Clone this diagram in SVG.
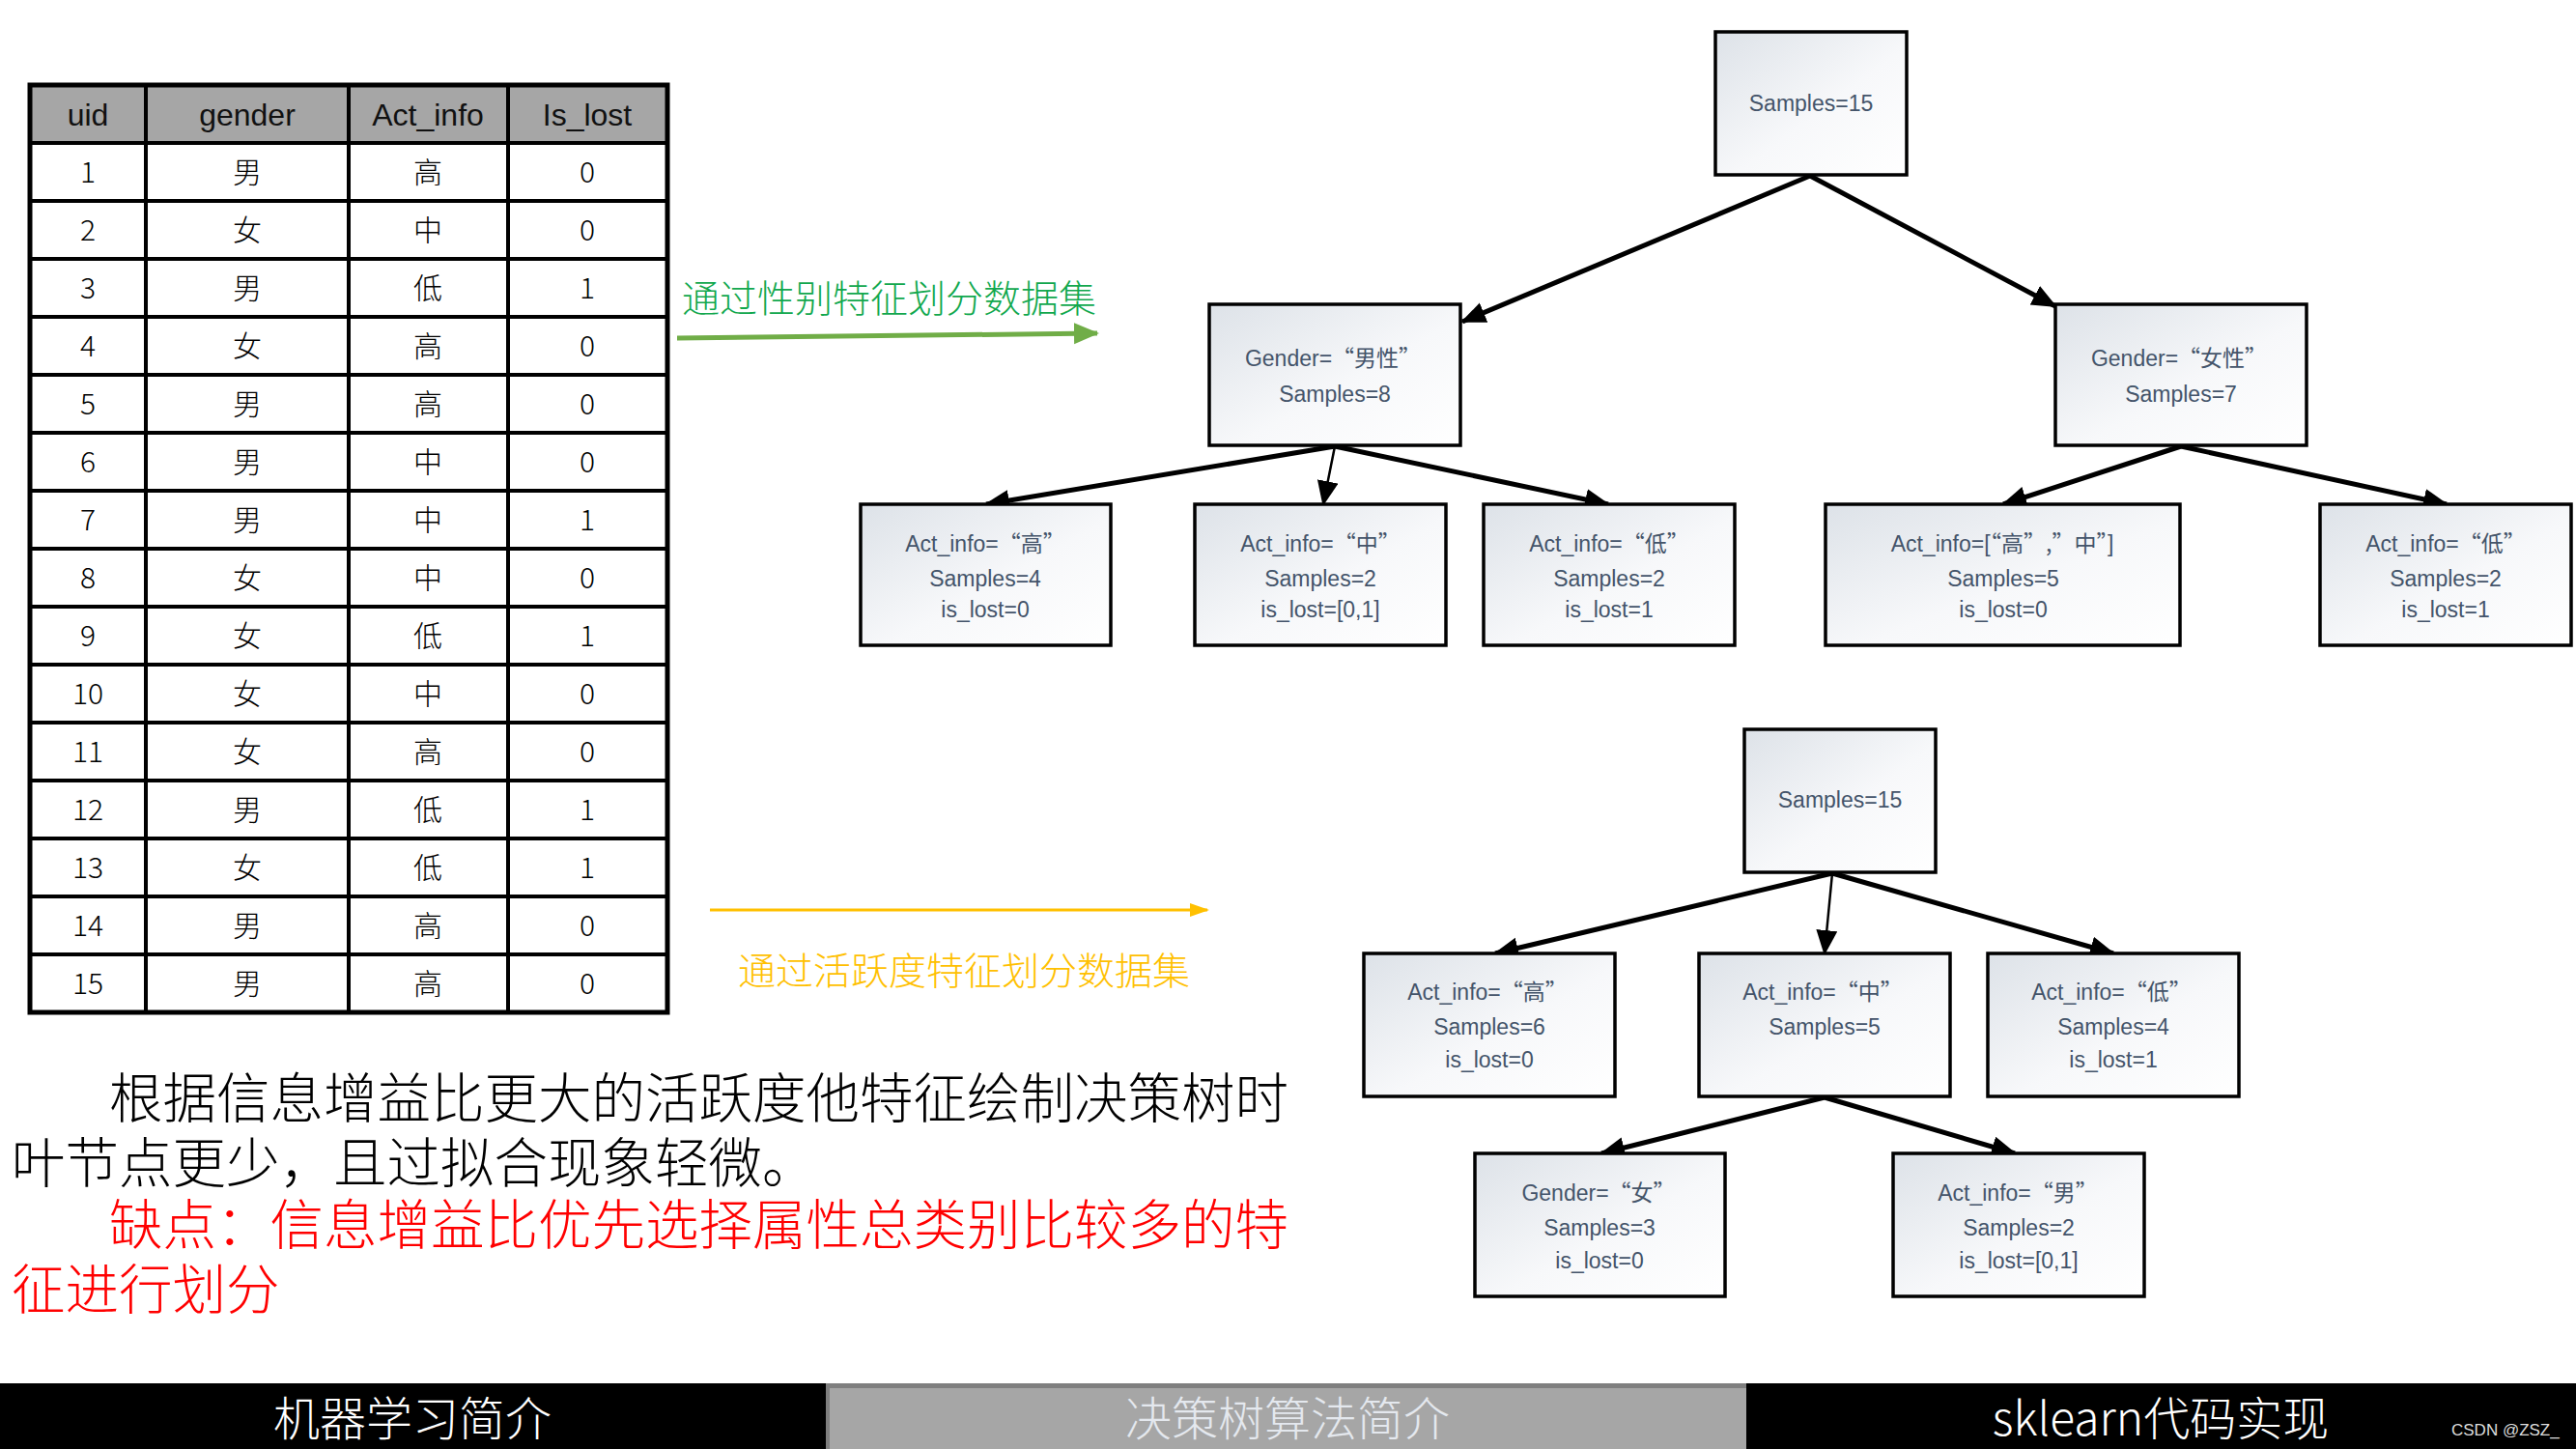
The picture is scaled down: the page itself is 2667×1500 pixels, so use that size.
<svg xmlns="http://www.w3.org/2000/svg" width="2667" height="1500" viewBox="0 0 2667 1500">
<style>
.tb{fill:none;stroke:#000;stroke-width:5}
.tl{stroke:#000;stroke-width:4}
.th{font-family:"Liberation Sans","Noto Sans CJK SC",sans-serif;font-size:32px;fill:#111;text-anchor:middle}
.td{font-family:"Noto Sans CJK SC","Liberation Sans",sans-serif;font-size:30px;font-weight:300;fill:#000;text-anchor:middle}
.node{fill:url(#ng);stroke:#000;stroke-width:3.5}
.nt{font-family:"Liberation Sans","Noto Sans CJK SC",sans-serif;font-size:23px;fill:#44546a;text-anchor:middle}
.cjk{font-family:"Noto Sans CJK SC",sans-serif}
.ar{stroke:#000;stroke-width:5;fill:none;marker-end:url(#ah)}
.arT{stroke:#000;stroke-width:2.5;fill:none;marker-end:url(#ah)}
.para{font-family:"Noto Sans CJK SC",sans-serif;font-size:55.5px;font-weight:300}
.bar{font-family:"Noto Sans CJK SC","Liberation Sans",sans-serif;font-size:48px;font-weight:300;text-anchor:middle}
</style>
<defs>
<linearGradient id="ng" x1="0" y1="0" x2="1" y2="1">
<stop offset="0" stop-color="#dde2e8"/>
<stop offset="0.55" stop-color="#f7f8fa"/>
<stop offset="1" stop-color="#ffffff"/>
</linearGradient>
<marker id="ah" markerUnits="userSpaceOnUse" markerWidth="28" markerHeight="24" refX="24" refY="11" orient="auto">
<path d="M0,0 L26,11 L0,22 z" fill="#000"/>
</marker>
<marker id="ahG" markerUnits="userSpaceOnUse" markerWidth="28" markerHeight="24" refX="24" refY="11" orient="auto">
<path d="M0,0 L26,11 L0,22 z" fill="#70ad47"/>
</marker>
<marker id="ahO" markerUnits="userSpaceOnUse" markerWidth="22" markerHeight="18" refX="18" refY="7" orient="auto">
<path d="M0,0 L20,7 L0,14 z" fill="#ffc000"/>
</marker>
</defs>
<rect width="2667" height="1500" fill="#fff"/>

<g id="table">
<rect x="31" y="88" width="660" height="60" fill="#a6a6a6"/>
<rect class="tb" x="31" y="88" width="660" height="960"/>
<line class="tl" x1="151" y1="88" x2="151" y2="1048"/>
<line class="tl" x1="361" y1="88" x2="361" y2="1048"/>
<line class="tl" x1="526" y1="88" x2="526" y2="1048"/>
<g class="tl">
<line x1="31" y1="148" x2="691" y2="148"/><line x1="31" y1="208" x2="691" y2="208"/>
<line x1="31" y1="268" x2="691" y2="268"/><line x1="31" y1="328" x2="691" y2="328"/>
<line x1="31" y1="388" x2="691" y2="388"/><line x1="31" y1="448" x2="691" y2="448"/>
<line x1="31" y1="508" x2="691" y2="508"/><line x1="31" y1="568" x2="691" y2="568"/>
<line x1="31" y1="628" x2="691" y2="628"/><line x1="31" y1="688" x2="691" y2="688"/>
<line x1="31" y1="748" x2="691" y2="748"/><line x1="31" y1="808" x2="691" y2="808"/>
<line x1="31" y1="868" x2="691" y2="868"/><line x1="31" y1="928" x2="691" y2="928"/>
<line x1="31" y1="988" x2="691" y2="988"/>
</g>
<text class="th" x="91" y="130">uid</text>
<text class="th" x="256" y="130">gender</text>
<text class="th" x="443" y="130">Act_info</text>
<text class="th" x="608" y="130">Is_lost</text>
<g class="td">
<text x="91" y="189">1</text><text x="256" y="189">男</text><text x="443" y="189">高</text><text x="608" y="189">0</text>
<text x="91" y="249">2</text><text x="256" y="249">女</text><text x="443" y="249">中</text><text x="608" y="249">0</text>
<text x="91" y="309">3</text><text x="256" y="309">男</text><text x="443" y="309">低</text><text x="608" y="309">1</text>
<text x="91" y="369">4</text><text x="256" y="369">女</text><text x="443" y="369">高</text><text x="608" y="369">0</text>
<text x="91" y="429">5</text><text x="256" y="429">男</text><text x="443" y="429">高</text><text x="608" y="429">0</text>
<text x="91" y="489">6</text><text x="256" y="489">男</text><text x="443" y="489">中</text><text x="608" y="489">0</text>
<text x="91" y="549">7</text><text x="256" y="549">男</text><text x="443" y="549">中</text><text x="608" y="549">1</text>
<text x="91" y="609">8</text><text x="256" y="609">女</text><text x="443" y="609">中</text><text x="608" y="609">0</text>
<text x="91" y="669">9</text><text x="256" y="669">女</text><text x="443" y="669">低</text><text x="608" y="669">1</text>
<text x="91" y="729">10</text><text x="256" y="729">女</text><text x="443" y="729">中</text><text x="608" y="729">0</text>
<text x="91" y="789">11</text><text x="256" y="789">女</text><text x="443" y="789">高</text><text x="608" y="789">0</text>
<text x="91" y="849">12</text><text x="256" y="849">男</text><text x="443" y="849">低</text><text x="608" y="849">1</text>
<text x="91" y="909">13</text><text x="256" y="909">女</text><text x="443" y="909">低</text><text x="608" y="909">1</text>
<text x="91" y="969">14</text><text x="256" y="969">男</text><text x="443" y="969">高</text><text x="608" y="969">0</text>
<text x="91" y="1029">15</text><text x="256" y="1029">男</text><text x="443" y="1029">高</text><text x="608" y="1029">0</text>
</g>
</g>

<g id="label-gender">
<text x="706" y="323" font-family="Noto Sans CJK SC, sans-serif" font-size="39" font-weight="300" fill="#11a84e">通过性别特征划分数据集</text>
</g>
<g id="label-act">
<text x="764" y="1019" font-family="Noto Sans CJK SC, sans-serif" font-size="39" font-weight="300" fill="#ffc000">通过活跃度特征划分数据集</text>
</g>

<g id="connectors">
<line x1="701" y1="350" x2="1136" y2="345" stroke="#70ad47" stroke-width="5" marker-end="url(#ahG)"/>
<line x1="735" y1="942" x2="1250" y2="942" stroke="#ffc000" stroke-width="3" marker-end="url(#ahO)"/>
<line class="ar" x1="1874" y1="182" x2="1514" y2="333"/>
<line class="ar" x1="1874" y1="182" x2="2128" y2="317"/>
<line class="ar" x1="1382" y1="462" x2="1021" y2="522"/>
<line class="arT" x1="1382" y1="462" x2="1370" y2="522"/>
<line class="ar" x1="1382" y1="462" x2="1665" y2="522"/>
<line class="ar" x1="2258" y1="462" x2="2074" y2="522"/>
<line class="ar" x1="2258" y1="462" x2="2533" y2="522"/>
<line class="ar" x1="1897" y1="904" x2="1548" y2="987"/>
<line class="arT" x1="1897" y1="904" x2="1889" y2="987"/>
<line class="ar" x1="1897" y1="904" x2="2188" y2="987"/>
<line class="ar" x1="1889" y1="1136" x2="1658" y2="1194"/>
<line class="ar" x1="1889" y1="1136" x2="2086" y2="1194"/>
</g>

<g id="n-root1">
<rect class="node" x="1776" y="33" width="198" height="148"/>
<text class="nt" x="1875" y="115">Samples=15</text>
</g>
<g id="n-male">
<rect class="node" x="1252" y="315" width="260" height="146"/>
<text class="nt" x="1380" y="379">Gender=<tspan class="cjk">“男性”</tspan></text>
<text class="nt" x="1382" y="416">Samples=8</text>
</g>
<g id="n-female">
<rect class="node" x="2128" y="315" width="260" height="146"/>
<text class="nt" x="2256" y="379">Gender=<tspan class="cjk">“女性”</tspan></text>
<text class="nt" x="2258" y="416">Samples=7</text>
</g>
<g id="n-m-high">
<rect class="node" x="891" y="522" width="259" height="146"/>
<text class="nt" x="1020" y="571">Act_info=<tspan class="cjk">“高”</tspan></text>
<text class="nt" x="1020" y="607">Samples=4</text>
<text class="nt" x="1020" y="639">is_lost=0</text>
</g>
<g id="n-m-mid">
<rect class="node" x="1237" y="522" width="260" height="146"/>
<text class="nt" x="1367" y="571">Act_info=<tspan class="cjk">“中”</tspan></text>
<text class="nt" x="1367" y="607">Samples=2</text>
<text class="nt" x="1367" y="639">is_lost=[0,1]</text>
</g>
<g id="n-m-low">
<rect class="node" x="1536" y="522" width="260" height="146"/>
<text class="nt" x="1666" y="571">Act_info=<tspan class="cjk">“低”</tspan></text>
<text class="nt" x="1666" y="607">Samples=2</text>
<text class="nt" x="1666" y="639">is_lost=1</text>
</g>
<g id="n-f-highmid">
<rect class="node" x="1890" y="522" width="367" height="146"/>
<text class="nt" x="2073" y="571">Act_info=[<tspan class="cjk">“高”,”中”</tspan>]</text>
<text class="nt" x="2074" y="607">Samples=5</text>
<text class="nt" x="2074" y="639">is_lost=0</text>
</g>
<g id="n-f-low">
<rect class="node" x="2402" y="522" width="260" height="146"/>
<text class="nt" x="2532" y="571">Act_info=<tspan class="cjk">“低”</tspan></text>
<text class="nt" x="2532" y="607">Samples=2</text>
<text class="nt" x="2532" y="639">is_lost=1</text>
</g>

<g id="n-root2">
<rect class="node" x="1806" y="755" width="198" height="148"/>
<text class="nt" x="1905" y="836">Samples=15</text>
</g>
<g id="n-a-high">
<rect class="node" x="1412" y="987" width="260" height="148"/>
<text class="nt" x="1540" y="1035">Act_info=<tspan class="cjk">“高”</tspan></text>
<text class="nt" x="1542" y="1071">Samples=6</text>
<text class="nt" x="1542" y="1105">is_lost=0</text>
</g>
<g id="n-a-mid">
<rect class="node" x="1759" y="987" width="260" height="148"/>
<text class="nt" x="1887" y="1035">Act_info=<tspan class="cjk">“中”</tspan></text>
<text class="nt" x="1889" y="1071">Samples=5</text>
</g>
<g id="n-a-low">
<rect class="node" x="2058" y="987" width="260" height="148"/>
<text class="nt" x="2186" y="1035">Act_info=<tspan class="cjk">“低”</tspan></text>
<text class="nt" x="2188" y="1071">Samples=4</text>
<text class="nt" x="2188" y="1105">is_lost=1</text>
</g>
<g id="n-a-f">
<rect class="node" x="1527" y="1194" width="259" height="148"/>
<text class="nt" x="1655" y="1243">Gender=<tspan class="cjk">“女”</tspan></text>
<text class="nt" x="1656" y="1279">Samples=3</text>
<text class="nt" x="1656" y="1313">is_lost=0</text>
</g>
<g id="n-a-m">
<rect class="node" x="1960" y="1194" width="260" height="148"/>
<text class="nt" x="2089" y="1243">Act_info=<tspan class="cjk">“男”</tspan></text>
<text class="nt" x="2090" y="1279">Samples=2</text>
<text class="nt" x="2090" y="1313">is_lost=[0,1]</text>
</g>

<g id="paragraph">
<text class="para" x="113" y="1157" fill="#000">根据信息增益比更大的活跃度他特征绘制决策树时</text>
<text class="para" x="12" y="1224" fill="#000">叶节点更少，且过拟合现象轻微。</text>
<text class="para" x="113" y="1288" fill="#ff0000">缺点：信息增益比优先选择属性总类别比较多的特</text>
<text class="para" x="12" y="1355" fill="#ff0000">征进行划分</text>
</g>

<g id="bottom-bar">
<rect x="0" y="1432" width="855" height="68" fill="#000"/>
<rect x="855" y="1432" width="953" height="68" fill="#a6a6a6"/>
<rect x="855" y="1432" width="953" height="5" fill="#7f7f7f"/>
<rect x="855" y="1432" width="4" height="68" fill="#7f7f7f"/>
<rect x="1808" y="1432" width="859" height="68" fill="#000"/>
<text class="bar" x="427" y="1486" fill="#fff">机器学习简介</text>
<text class="bar" x="1333" y="1486" fill="#e4e8ee">决策树算法简介</text>
<text class="bar" x="2237" y="1486" fill="#fff">sklearn代码实现</text>
<text x="2538" y="1486" font-family="Liberation Sans, sans-serif" font-size="17" fill="#ddd">CSDN @ZSZ_</text>
</g>
</svg>
